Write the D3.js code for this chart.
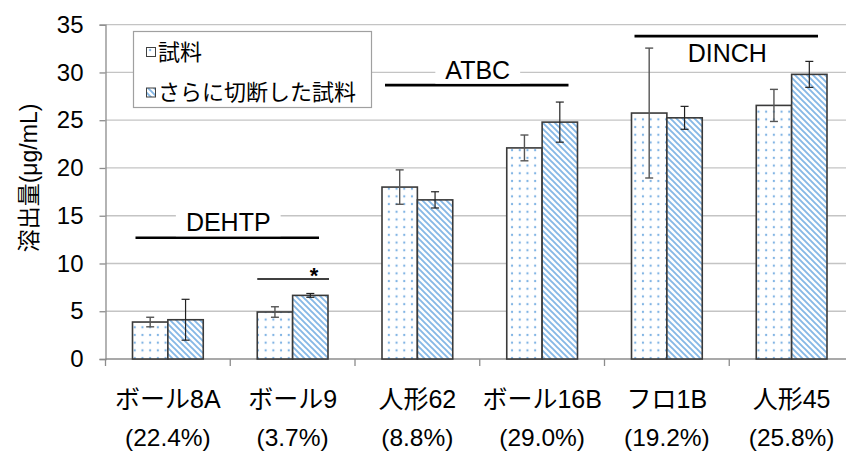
<!DOCTYPE html>
<html><head><meta charset="utf-8">
<script src="https://cdn.jsdelivr.net/npm/d3@7"></script>
<style>
html,body{margin:0;padding:0;background:#fff;}
svg{display:block;}
text{font-family:"Liberation Sans",Arial,"Noto Sans CJK JP",sans-serif;fill:#000;}
</style></head>
<body>
<script>
// ---- data ----
const categories = ["ボール8A","ボール9","人形62","ボール16B","フロ1B","人形45"];
const percents = ["(22.4%)","(3.7%)","(8.8%)","(29.0%)","(19.2%)","(25.8%)"];
const seriesNames = ["試料","さらに切断した試料"];
const sampleValues = [3.87, 4.92, 18.0, 22.1, 25.75, 26.55];
const sampleErrors = [0.5, 0.55, 1.8, 1.35, 6.8, 1.68];
const cutValues = [4.11, 6.66, 16.66, 24.8, 25.25, 29.8];
const cutErrors = [2.14, 0.2, 0.85, 2.1, 1.2, 1.36];
const yTicks = [0,5,10,15,20,25,30,35];
const yTitle = "溶出量(μg/mL)";
const groupLabels = ["DEHTP","ATBC","DINCH"];
const groupStart = ["ボール8A","人形62","フロ1B"];
const groupEnd = ["ボール9","ボール16B","人形45"];
const groupLevel = [12.7, 28.67, 33.8];
const sigCategory = "ボール9";
const sigLevel = 8.37;
const sigMark = "*";

// ---- layout ----
const W = 846, H = 452;
const svg = d3.select("body").append("svg").attr("width", W).attr("height", H);
const defs = svg.append("defs");

const dots = defs.append("pattern").attr("id","dots").attr("patternUnits","userSpaceOnUse")
  .attr("width",7.7).attr("height",7.7);
dots.append("rect").attr("width",7.7).attr("height",7.7).attr("fill","#fff");
dots.append("circle").attr("cx",3.85).attr("cy",3.85).attr("r",1.15).attr("fill","#7fb3e4");

const stripes = defs.append("pattern").attr("id","stripes").attr("patternUnits","userSpaceOnUse")
  .attr("width",6).attr("height",6);
stripes.append("rect").attr("width",6).attr("height",6).attr("fill","#fff");
stripes.append("path").attr("d","M-1,-1 L7,7 M-1,5 L1,7 M5,-1 L7,1")
  .attr("stroke","#86b8e6").attr("stroke-width",1.9);

const x0 = d3.scaleBand().domain(categories).range([105.5, 854]).padding(0);
const x1 = d3.scaleBand().domain(seriesNames).range([27, x0.bandwidth()-27]).padding(0);
const y = d3.scaleLinear().domain([0,35]).range([359, 24.7]);

// gridlines
svg.append("g").selectAll("line").data(yTicks.filter(d=>d>0)).join("line")
  .attr("x1",105.5).attr("x2",W).attr("y1",d=>y(d)).attr("y2",d=>y(d))
  .attr("stroke","#c4c4c4").attr("stroke-width",1.3);

// y axis
const yAxis = svg.append("g").attr("transform","translate(105.5,0)")
  .call(d3.axisLeft(y).tickValues(yTicks).tickSize(6).tickPadding(16).tickFormat(d3.format("d")));
yAxis.select(".domain").attr("stroke","#8c8c8c").attr("stroke-width",1.3);
yAxis.selectAll(".tick line").attr("stroke","#8c8c8c").attr("stroke-width",1.3);
yAxis.selectAll(".tick text").attr("font-size",24).attr("font-family",'"Liberation Sans",Arial,sans-serif').attr("fill","#000");

// x axis
const xAxis = svg.append("g").attr("transform","translate(0,359)");
xAxis.append("line").attr("x1",105.5).attr("x2",W).attr("stroke","#8c8c8c").attr("stroke-width",1.3);
xAxis.selectAll("line.t").data(categories).join("line").attr("class","t")
  .attr("x1",d=>x0(d)).attr("x2",d=>x0(d)).attr("y1",0).attr("y2",7)
  .attr("stroke","#8c8c8c").attr("stroke-width",1.3);
xAxis.selectAll("text.c").data(categories).join("text").attr("class","c")
  .attr("x",d=>x0(d)+x0.bandwidth()/2).attr("y",49).attr("text-anchor","middle")
  .attr("font-size",25).text(d=>d);
xAxis.selectAll("text.p").data(percents).join("text").attr("class","p")
  .attr("x",(d,i)=>x0(categories[i])+x0.bandwidth()/2).attr("y",87).attr("text-anchor","middle")
  .attr("font-size",24.5).text(d=>d);

// y title
svg.append("text").attr("transform","translate(37,178) rotate(-90)")
  .attr("text-anchor","middle").attr("font-size",23).text(yTitle);

// bars
const rows = categories.map((c,i)=>[
  {cat:c, s:seriesNames[0], v:sampleValues[i], e:sampleErrors[i], k:0},
  {cat:c, s:seriesNames[1], v:cutValues[i], e:cutErrors[i], k:1}
]).flat();

svg.append("g").selectAll("rect").data(rows).join("rect")
  .attr("x",d=>x0(d.cat)+x1(d.s)).attr("width",x1.bandwidth())
  .attr("y",d=>y(d.v)).attr("height",d=>y(0)-y(d.v))
  .attr("fill",d=>d.k===0?"url(#dots)":"url(#stripes)")
  .attr("stroke","#3a3a3a").attr("stroke-width",1.6);

// error bars
const eb = svg.append("g").selectAll("g").data(rows).join("g")
  .attr("stroke",d=>d.k===0?"#555":"#222").attr("stroke-width",d=>d.k===0?1.4:1.2);
eb.append("line").attr("x1",d=>x0(d.cat)+x1(d.s)+x1.bandwidth()/2).attr("x2",d=>x0(d.cat)+x1(d.s)+x1.bandwidth()/2)
  .attr("y1",d=>y(d.v+d.e)).attr("y2",d=>y(d.v-d.e));
eb.append("line").attr("x1",d=>x0(d.cat)+x1(d.s)+x1.bandwidth()/2-4).attr("x2",d=>x0(d.cat)+x1(d.s)+x1.bandwidth()/2+4)
  .attr("y1",d=>y(d.v+d.e)).attr("y2",d=>y(d.v+d.e));
eb.append("line").attr("x1",d=>x0(d.cat)+x1(d.s)+x1.bandwidth()/2-4).attr("x2",d=>x0(d.cat)+x1(d.s)+x1.bandwidth()/2+4)
  .attr("y1",d=>y(d.v-d.e)).attr("y2",d=>y(d.v-d.e));

// group annotations
const ann = svg.append("g");
groupLabels.forEach((lab,i)=>{
  const xa = x0(groupStart[i])+30, xb = x0(groupEnd[i])+x0.bandwidth()-36;
  const ly = y(groupLevel[i]);
  ann.append("line").attr("x1",xa).attr("x2",xb).attr("y1",ly).attr("y2",ly)
    .attr("stroke","#000").attr("stroke-width",2.6);
  const above = i<2;
  const ty = above ? ly-6.5 : ly+25.5;
  const bg = ann.append("rect").attr("fill","#fff");
  const t = ann.append("text").attr("x",(xa+xb)/2+1).attr("y",ty).attr("text-anchor","middle")
    .attr("font-size",25).text(lab);
  const bb = t.node().getBBox();
  bg.attr("x",bb.x-10).attr("y",bb.y).attr("width",bb.width+20).attr("height",bb.height);
});

// significance
const sx = x0(sigCategory)+x1(seriesNames[0]), sw = x1.bandwidth()*2;
svg.append("line").attr("x1",sx).attr("x2",sx+sw+1).attr("y1",y(sigLevel)).attr("y2",y(sigLevel))
  .attr("stroke","#000").attr("stroke-width",1.5);
svg.append("text").attr("x",sx+sw-14).attr("y",y(sigLevel)+4).attr("text-anchor","middle")
  .attr("font-size",22).attr("font-weight","bold").text(sigMark);

// legend
const lg = svg.append("g");
lg.append("rect").attr("x",133.5).attr("y",31.5).attr("width",238).attr("height",76)
  .attr("fill","#fff").attr("stroke","#a0a0a0").attr("stroke-width",1.2);
seriesNames.forEach((s,i)=>{
  const cy = 52 + i*40.5;
  lg.append("rect").attr("x",146.5).attr("y",cy-4.5).attr("width",9).attr("height",9)
    .attr("fill",i===0?"url(#dots)":"url(#stripes)").attr("stroke","#404040").attr("stroke-width",1);
  lg.append("text").attr("x",158).attr("y",cy+7.5).attr("font-size",22).text(s);
});
</script>
</body></html>
